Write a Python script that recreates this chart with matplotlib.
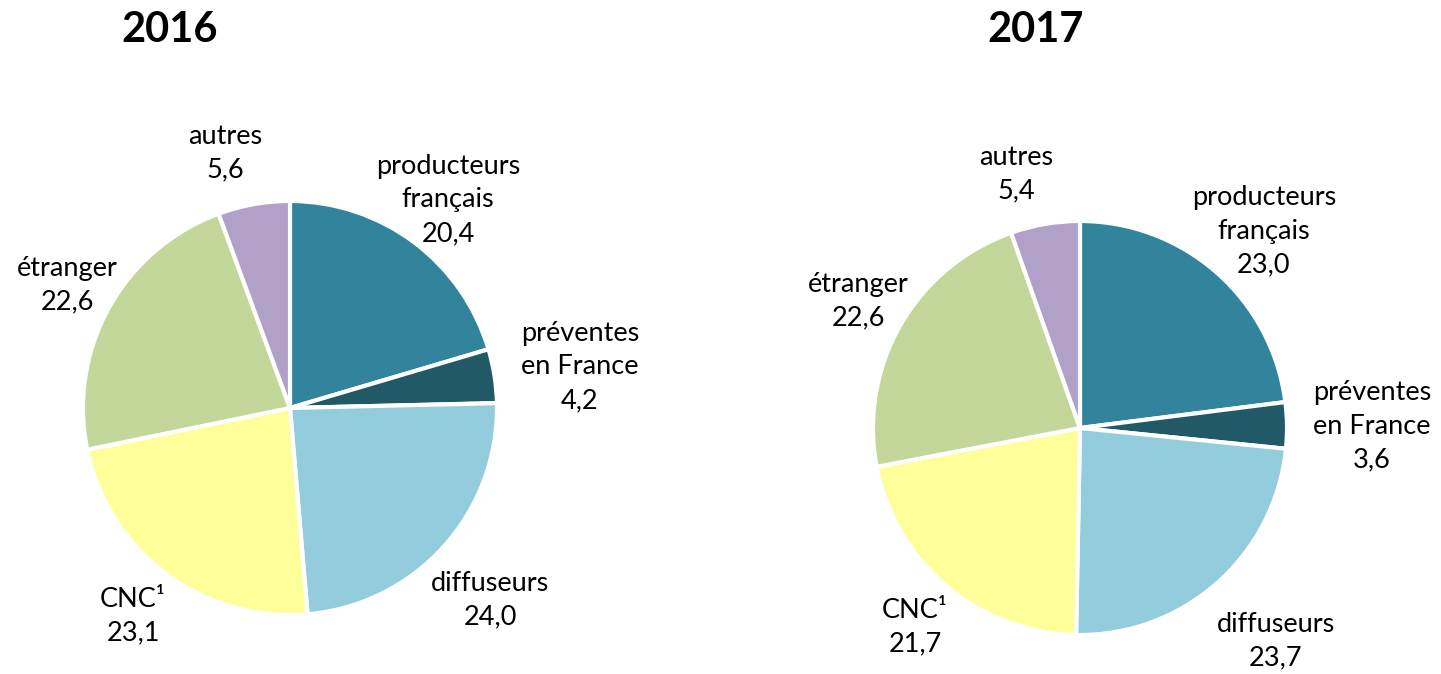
import matplotlib.pyplot as plt

plt.rcParams['font.family'] = ['Lato', 'DejaVu Sans']

categories = ['producteurs\nfrançais', 'préventes\nen France', 'diffuseurs', 'CNC¹', 'étranger', 'autres']
colors = ['#31849B', '#215967', '#93CDDD', '#FFFF99', '#C4D79B', '#B1A0C7']
years = ['2016', '2017']
values_2016 = [20.4, 4.2, 24.0, 23.1, 22.6, 5.6]
values_2017 = [23.0, 3.6, 23.7, 21.7, 22.6, 5.4]

W, H = 1441, 674
fig = plt.figure(figsize=(W / 100, H / 100), dpi=100)

# pie centre / radius in pixels, label centres in pixels
pies = [
    dict(year='2016', vals=values_2016, cx=290, cy=408, r=207, title_x=170,
         labels=[(448, 200), (580, 367), (490, 600), (133, 616), (67, 285), (225, 153)]),
    dict(year='2017', vals=values_2017, cx=1080, cy=428, r=207, title_x=1036,
         labels=[(1264, 231), (1372, 426), (1276, 641), (915, 627), (858, 301), (1016, 174)]),
]

for p in pies:
    cx, cy, r = p['cx'], p['cy'], p['r']
    ax = fig.add_axes([(cx - r) / W, (H - cy - r) / H, 2 * r / W, 2 * r / H])
    ax.pie(p['vals'], colors=colors, startangle=90, counterclock=False, radius=1,
           wedgeprops=dict(edgecolor='white', linewidth=3))
    ax.set_xlim(-1, 1)
    ax.set_ylim(-1, 1)
    ax.set_aspect('equal')
    ax.axis('off')
    for name, v, (lx, ly) in zip(categories, p['vals'], p['labels']):
        txt = name + '\n' + f'{v:.1f}'.replace('.', ',')
        ax.text((lx - cx) / r, (cy - ly) / r, txt, ha='center', va='center',
                fontsize=19.5, linespacing=1.42, clip_on=False)
    fig.text(p['title_x'] / W, 1 - 30 / H, p['year'], ha='center', va='center',
             fontsize=30, fontweight='bold')

fig.savefig('out.png', dpi=100)
